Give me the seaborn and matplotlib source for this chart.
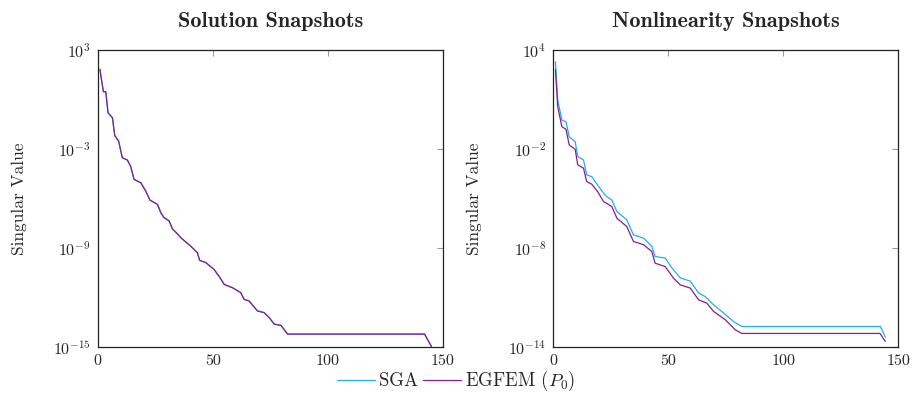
import matplotlib.pyplot as plt
import matplotlib as mpl
import pandas as pd
import seaborn as sns
import numpy as np

# Values (index, log10 of singular value).
sol_x = [1, 1.5, 2.5, 3.5, 4.5, 6.4, 7.4, 9.1, 10.7, 12.9, 14.3, 15.8, 18.7,
         20.9, 22.7, 26, 27.4, 28.8, 31, 32.5, 34, 36.1, 40.4, 43.3, 44.3, 47,
         50.6, 52.7, 55, 58.6, 62.2, 63.6, 65.8, 69.4, 72.3, 74.5, 76.7, 79.6,
         82.5, 142, 145]
sol_log = [1.8, 1.3, 0.45, 0.45, -0.82, -1.12, -2.19, -2.54, -3.54, -3.68,
           -4.05, -4.85, -5.05, -5.56, -6.1, -6.36, -6.86, -7.16, -7.35, -7.85,
           -8.05, -8.37, -8.88, -9.28, -9.74, -9.88, -10.3, -10.7, -11.2,
           -11.4, -11.7, -12.1, -12.2, -12.8, -12.9, -13.2, -13.6, -13.67,
           -14.2, -14.2, -14.95]

sga_x = [1, 2, 3.8, 5.6, 7, 9.6, 10.7, 13.2, 14.6, 16.8, 19.4, 21.9, 23.3,
         25.5, 27.7, 32, 34.9, 39.3, 42.9, 44.3, 48.7, 51.6, 55.2, 59.6, 63.2,
         66.1, 69.7, 74.1, 78.4, 82, 142.2, 144.3]
sga_log = [3.26, 0.95, -0.26, -0.36, -1.27, -1.57, -2.47, -2.67, -3.58, -3.68,
           -4.2, -4.68, -4.89, -5.09, -5.79, -6.3, -7.2, -7.4, -7.9, -8.51,
           -8.6, -9.2, -9.8, -10.0, -10.72, -10.93, -11.43, -11.93, -12.44,
           -12.74, -12.74, -13.38]

egf_x = [1, 2, 3.8, 5.6, 7, 9.6, 10.7, 13.2, 14.6, 16.8, 19.4, 21.9, 23.3,
         25.5, 27.7, 32, 34.9, 39.3, 42.9, 44.3, 48.7, 52.3, 55.2, 59.6, 63.2,
         66.8, 69.7, 74.8, 79.1, 82, 142, 144.3]
egf_log = [2.8, 0.55, -0.66, -0.82, -1.77, -2.03, -2.97, -3.17, -3.98, -4.14,
           -4.6, -5.19, -5.3, -5.49, -6.19, -6.7, -7.6, -7.8, -8.21, -8.91,
           -9.12, -9.82, -10.22, -10.42, -11.13, -11.33, -11.83, -12.33,
           -12.94, -13.16, -13.16, -13.64]

labels = ["SGA", r"EGFEM ($P_0$)"]
colors = ["#1cb0ec", "#8a1c8a"]
titles = ["Solution Snapshots", "Nonlinearity Snapshots"]
left_yticks = [1e3, 1e-3, 1e-9, 1e-15]
left_yticklabels = [r"$10^{3}$", r"$10^{-3}$", r"$10^{-9}$", r"$10^{-15}$"]
right_yticks = [1e4, 1e-2, 1e-8, 1e-14]
right_yticklabels = [r"$10^{4}$", r"$10^{-2}$", r"$10^{-8}$", r"$10^{-14}$"]
xticks = [0, 50, 100, 150]


def frame(x, logv, name):
    return pd.DataFrame({"k": x, "value": np.power(10.0, logv), "method": name})


sns.set_style("white")
mpl.rcParams["font.family"] = ["cmr10", "DejaVu Serif"]
mpl.rcParams["mathtext.fontset"] = "cm"
mpl.rcParams["axes.formatter.use_mathtext"] = True
mpl.rcParams["axes.unicode_minus"] = False

df_sol = pd.concat([frame(sol_x, sol_log, labels[0]),
                    frame(sol_x, sol_log, labels[1])])
df_nl = pd.concat([frame(sga_x, sga_log, labels[0]),
                   frame(egf_x, egf_log, labels[1])])

fig, axes = plt.subplots(1, 2, figsize=(9.13, 4.2), dpi=100)
fig.subplots_adjust(left=0.107, right=0.984, top=0.882, bottom=0.173, wspace=0.319)

panels = [
    (df_sol, (1e-15, 1e3), left_yticks, left_yticklabels),
    (df_nl, (1e-14, 1e4), right_yticks, right_yticklabels),
]
for ax, title, (df, ylim, yt, ytl) in zip(axes, titles, panels):
    sns.lineplot(data=df, x="k", y="value", hue="method", hue_order=labels,
                 palette=colors, linewidth=0.9, sort=False, ax=ax, legend=True)
    ax.set_yscale("log")
    ax.set_xlim(0, 150)
    ax.set_ylim(*ylim)
    ax.set_xticks(xticks, [str(t) for t in xticks])
    ax.set_yticks(yt, ytl)
    ax.yaxis.set_minor_locator(mpl.ticker.NullLocator())
    ax.tick_params(direction="in", top=True, right=True, length=4.5, width=0.8,
                   color="#999999", labelsize=11.5, pad=5)
    for s in ax.spines.values():
        s.set_color("#222222")
        s.set_linewidth(0.9)
    ax.set_xlabel("")
    ax.set_ylabel("Singular Value", fontsize=12.5)
    ax.yaxis.set_label_coords(-0.205, 0.5)
    ax.set_title(title, fontsize=16, family="cmb10", pad=16.5)
    handles, labs = ax.get_legend_handles_labels()
    ax.get_legend().remove()

fig.legend(handles, labs, loc="center", bbox_to_anchor=(0.5, 0.092), ncol=2,
           frameon=False, fontsize=13.5, handlelength=2.0, handletextpad=0.25,
           columnspacing=0.25)

fig.savefig("out.png", dpi=100)
